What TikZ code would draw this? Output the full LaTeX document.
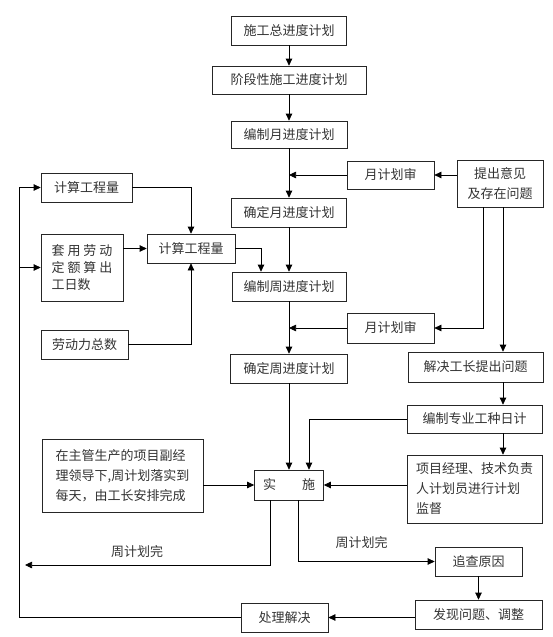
\documentclass[tikz,border=0pt]{standalone}
\usepackage{fontspec}
\setmainfont{Noto Sans CJK SC}
\usetikzlibrary{arrows.meta}

\begin{document}
\begin{tikzpicture}[x=1pt,y=-1pt,
        box/.style={draw=black!85,line width=0.7pt,inner sep=2pt,align=left,
            font=\fontsize{13}{20}\selectfont,text=black!80},
        lbl/.style={font=\fontsize{13}{20}\selectfont,text=black!80},
        arr/.style={line width=0.7pt,-{Triangle[length=7pt,width=6.5pt]}}]
        \useasboundingbox (0,0) rectangle (553,637);

        %%%%%%%%%% Colonna centrale %%%%%%%%%%
        \node[box,minimum width=115pt,minimum height=29pt] (zongjh) at (289,30.5) {施工总进度计划};
        \node[box,minimum width=154pt,minimum height=28pt] (jieduan) at (289,80) {阶段性施工进度计划};
        \node[box,minimum width=116pt,minimum height=27pt] (yuebz) at (289,134.5) {编制月进度计划};
        \node[box,minimum width=115pt,minimum height=29pt] (yueqd) at (289,212.5) {确定月进度计划};
        \node[box,minimum width=114pt,minimum height=29pt] (zhoubz) at (289,286.5) {编制周进度计划};
        \node[box,minimum width=117pt,minimum height=29pt] (zhouqd) at (289,368.5) {确定周进度计划};
        \node[box,minimum width=69pt,minimum height=30pt] (shishi) at (289,485) {实\hspace{2em}施};
        \node[box,minimum width=87pt,minimum height=29pt] (chuli) at (284.5,617.5) {处理解决};

        %%%%%%%%%% Colonna sinistra %%%%%%%%%%
        \node[box,minimum width=91pt,minimum height=29pt] (jisuan1) at (86.5,187.5) {计算工程量};
        \node[box,minimum width=82pt,minimum height=67pt,font=\fontsize{13}{17}\selectfont] (taoyong) at (82,267.5) {套 用 劳 动\\定 额 算 出\\工日数};
        \node[box,minimum width=88pt,minimum height=29pt] (jisuan2) at (191,248.5) {计算工程量};
        \node[box,minimum width=87pt,minimum height=29pt] (laodong) at (84.5,344.5) {劳动力总数};
        \node[box,minimum width=161pt,minimum height=73pt] (fujl) at (122.5,475.5) {在主管生产的项目副经\\理领导下,周计划落实到\\每天，由工长安排完成};

        %%%%%%%%%% Colonna destra %%%%%%%%%%
        \node[box,minimum width=87pt,minimum height=28pt] (yueshen1) at (390.5,175) {月计划审};
        \node[box,minimum width=86pt,minimum height=47pt,align=center] (tichu) at (500,183.5) {提出意见\\及存在问题};
        \node[box,minimum width=87pt,minimum height=30pt] (yueshen2) at (390.5,328) {月计划审};
        \node[box,minimum width=135pt,minimum height=30pt] (jiejue) at (475.5,367) {解决工长提出问题};
        \node[box,minimum width=135pt,minimum height=28pt] (zhuanye) at (474.5,419) {编制专业工种日计};
        \node[box,minimum width=135pt,minimum height=68pt] (jiandu) at (474.5,489) {项目经理、技术负责\\人计划员进行计划\\监督};
        \node[box,minimum width=87pt,minimum height=29pt] (zhuicha) at (478.5,561.5) {追查原因};
        \node[box,minimum width=127pt,minimum height=29pt] (faxian) at (478.5,614.5) {发现问题、调整};

        %%%%%%%%%% Testo %%%%%%%%%%
        \node[lbl] (wan1) at (137,552) {周计划完};
        \node[lbl] (wan2) at (361.5,543) {周计划完};

        \coordinate (rx) at (503,0);
        \coordinate (fbx) at (19,617.5);
        \coordinate (wanL) at (25,565);

        %%%%%%%%%% Frecce %%%%%%%%%%
        \draw[arr] (zongjh.south) -- (jieduan.north);
        \draw[arr] (jieduan.south) -- (yuebz.north);
        \draw[arr] (yuebz.south) -- (yueqd.north);
        \draw[arr] (yueshen1.west) -- (yueshen1.west -| yuebz.south);
        \draw[arr] (tichu.west |- yueshen1.east) -- (yueshen1.east);
        \draw[arr] ([xshift=-17pt]tichu.south) |- (yueshen2.east);
        \draw[arr] (tichu.south -| rx) -- (jiejue.north -| rx);
        \draw[arr] (yueqd.south) -- (zhoubz.north);
        \draw[arr] (zhoubz.south) -- (zhouqd.north);
        \draw[arr] (yueshen2.west) -- (yueshen2.west -| zhoubz.south);
        \draw[arr] (jiejue.south -| rx) -- (zhuanye.north -| rx);
        \draw[arr] (zhuanye.south -| rx) -- (jiandu.north -| rx);
        \draw[arr] (zhouqd.south) -- (shishi.north);
        \draw[arr] (zhuanye.west) -| ([xshift=20pt]shishi.north);
        \draw[arr] (jiandu.west |- shishi.east) -- (shishi.east);
        \draw[arr] (fujl.east |- shishi.west) -- (shishi.west);
        \draw[arr] ([xshift=-19pt]shishi.south) |- (wanL);
        \draw[arr] ([xshift=9pt]shishi.south) |- (zhuicha.west);
        \draw[arr] (zhuicha.south) -- (faxian.north);
        \draw[arr] (faxian.west |- chuli.east) -- (chuli.east);
        \draw[arr] (chuli.west) -- (fbx) |- (jisuan1.west);
        \draw[arr] (fbx |- taoyong.west) -- (taoyong.west);
        \draw[arr] (jisuan1.east) -| (jisuan2.north);
        \draw[arr] (taoyong.east |- jisuan2.west) -- (jisuan2.west);
        \draw[arr] (laodong.east) -| (jisuan2.south);
        \draw[arr] (jisuan2.east) -| ([xshift=-28pt]zhoubz.north);
    \end{tikzpicture}
\end{document}
